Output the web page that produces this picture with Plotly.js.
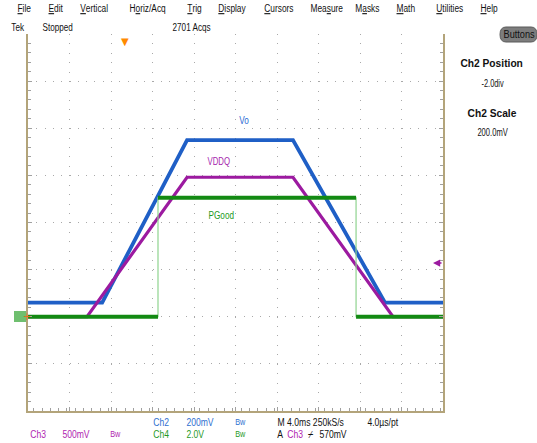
<!DOCTYPE html>
<html>
<head>
<meta charset="utf-8">
<script src="https://cdn.plot.ly/plotly-3.0.1.min.js"></script>
<style>
html,body{margin:0;padding:0;background:#fff;}
#chart{width:537px;height:443px;}
</style>
</head>
<body>
<div id="chart"></div>
<script>
// ---- channel settings (volts per division, position in divisions) ----
const chNames = ["Ch2", "Ch3", "Ch4"];
const chScale = [0.2, 0.5, 2.0];
const chPosition = [-2.0, -2.0, -2.0];
const triggerLevel = 0.57;   // V on Ch3

// ---- time axis (ms, relative to trigger) ----
const timeRange = [-9.35, 30.65];

// ---- waveform breakpoints ----
const voTime   = [-9.35, -2.2, 5.98, 16.19, 25.06, 30.65];
const voVolts  = [0.06, 0.06, 0.75, 0.75, 0.06, 0.06];

const vddqTime  = [-9.35, -3.66, 5.98, 16.19, 25.83, 30.65];
const vddqVolts = [0.0, 0.0, 1.48, 1.48, 0.0, 0.0];

const pgTime  = [-9.35, 3.18, 3.18, 22.27, 22.27, 30.65];
const pgVolts = [0.0, 0.0, 5.05, 5.05, 0.0, 0.0];

// ---- text ----
const menuItems = ["<u>F</u>ile","<u>E</u>dit","<u>V</u>ertical","H<u>o</u>riz/Acq","<u>T</u>rig","<u>D</u>isplay","<u>C</u>ursors","Mea<u>s</u>ure","M<u>a</u>sks","<u>M</u>ath","<u>U</u>tilities","<u>H</u>elp"];
const statusItems = ["Tek", "Stopped", "2701 Acqs"];
const waveLabels = ["Vo", "VDDQ", "PGood"];

function toDiv(volts, ch){ return volts.map(v => v / chScale[ch] + chPosition[ch]); }

// plot area in pixels
const L = 28, R = 443, T = 34, B = 411;
const W = R - L, H = B - T;
const px = x => (x - L) / W;
const py = y => (B - y) / H;

const BLUE = "#1f5fc6", MAG = "#9c1aa0", GRN = "#138a13", GRN_EDGE = "#8fd48f";

// green trace split at vertical edges
const pgDiv = toDiv(pgVolts, 2);
const pgLvlX = [], pgLvlY = [];
for (let i = 0; i < pgTime.length; i++) {
  pgLvlX.push(pgTime[i]); pgLvlY.push(pgDiv[i]);
  if (i < pgTime.length - 1 && pgTime[i + 1] === pgTime[i]) { pgLvlX.push(null); pgLvlY.push(null); }
}

const traces = [
  {x: voTime, y: toDiv(voVolts, 0), mode: "lines", line: {color: BLUE, width: 3.8}, hoverinfo: "skip"},
  {x: vddqTime, y: toDiv(vddqVolts, 1), mode: "lines", line: {color: MAG, width: 3.2}, hoverinfo: "skip"},
  {x: pgTime, y: pgDiv, mode: "lines", line: {color: GRN_EDGE, width: 1.2}, hoverinfo: "skip"},
  {x: pgLvlX, y: pgLvlY, mode: "lines", line: {color: GRN, width: 4.2}, hoverinfo: "skip", connectgaps: false}
];

const FONT = "Liberation Sans, Arial, sans-serif";
const TICKC = "#a0a0a0";
const divT = (timeRange[1] - timeRange[0]) / 10;

const baseX = {range: timeRange, showticklabels: false, zeroline: false, fixedrange: true,
  tick0: timeRange[0], dtick: divT};
const baseY = {range: [-4, 4], showticklabels: false, zeroline: false, fixedrange: true, tick0: 0, dtick: 1};

// text measuring (to size annotation boxes for the condensed scope font)
const ctx = document.createElement("canvas").getContext("2d");
function measure(text, size, bold) {
  ctx.font = (bold ? "bold " : "") + size + "px 'Liberation Sans'";
  return ctx.measureText(text.replace(/<[^>]+>/g, "")).width;
}

const annotations = [];
const squeeze = [];   // horizontal condensing per annotation (the scope font is narrow)
function addText(text, x, y, size, color, opts, sq) {
  const bold = /<b>/.test(text);
  const w = measure(text, size, bold) * sq + 1;
  const a = Object.assign({text: text, xref: "paper", yref: "paper", x: px(x), y: py(y),
    xanchor: "left", yanchor: "middle", showarrow: false, width: w, borderpad: 0, align: "center",
    font: {family: FONT, size: size, color: color}}, opts || {});
  annotations.push(a);
  squeeze.push(sq);
}
// menu
const menuX = [16, 47, 79, 128, 186, 217, 263, 309, 354, 395, 435, 479];
menuItems.forEach((m, i) => addText(m, menuX[i], 8, 11, "#111", null, 0.76));
// status row
const statusX = [10, 41, 171];
statusItems.forEach((t, i) => addText(t, statusX[i], 27, 11, "#111", null, 0.74));
// right panel
addText("Buttons", 518.5, 34.5, 10, "#111", {xanchor: "center"}, 0.92);
addText("<b>" + chNames[0] + " Position</b>", 492, 63, 11, "#111", {xanchor: "center"}, 0.93);
addText(chPosition[0].toFixed(1) + "div", 492, 83, 10, "#111", {xanchor: "center"}, 0.74);
addText("<b>" + chNames[0] + " Scale</b>", 492, 113, 11, "#111", {xanchor: "center"}, 0.93);
addText((chScale[0] * 1000).toFixed(1) + "mV", 492, 132, 10, "#111", {xanchor: "center"}, 0.76);
// waveform labels
addText(waveLabels[0], 244, 121, 10, "#2a6ad4", {xanchor: "center"}, 0.82);
addText(waveLabels[1], 219, 161, 10, "#a51fad", {xanchor: "center"}, 0.78);
addText(waveLabels[2], 221, 215.5, 10, "#1d9a1d", {xanchor: "center"}, 0.82);
// bottom readouts
const C2 = "#2f6fd0", C3 = "#b01eb0", C4 = "#1f9a1f";
const row1 = [[chNames[0], 152, C2], ["200mV", 185, C2], ["Bw", 234, C2], ["M 4.0ms 250kS/s", 276, "#111"], ["4.0µs/pt", 366, "#111"]];
const row2 = [[chNames[1], 29, C3], ["500mV", 61, C3], ["Bw", 109, C3], [chNames[2], 152, C4], ["2.0V", 185, C4], ["Bw", 234, C4],
  ["A", 276, "#111"], [chNames[1], 286, C3], ["⌿", 306, "#111"], ["570mV", 318, "#111"]];
row1.forEach(([t, x, c]) => addText(t, x, 422, t === "Bw" ? 8.5 : 10, c, null, 0.86));
row2.forEach(([t, x, c]) => addText(t, x, 434, t === "Bw" ? 8.5 : 10, c, null, 0.86));

// trigger position marker (top), trigger level marker (right), ground marker
annotations.push({text: "▼", xref: "x", yref: "paper", x: 0, y: 1.0, xanchor: "center", yanchor: "top", showarrow: false,
  font: {family: "DejaVu Sans", size: 10, color: "#ff8a00"}}); squeeze.push(1);
annotations.push({text: "", xref: "paper", yref: "y", x: px(433), y: triggerLevel / chScale[1] + chPosition[1],
  ax: 10, ay: 0, showarrow: true, arrowhead: 2, arrowsize: 0.9, arrowwidth: 1.6, arrowcolor: MAG}); squeeze.push(1);
annotations.push({text: "+", xref: "paper", yref: "y", x: px(27), y: chPosition[0], xanchor: "center", yanchor: "middle", showarrow: false,
  font: {family: "DejaVu Sans", size: 10, color: "#e07020"}}); squeeze.push(1);

const shapes = [
  {type: "rect", xref: "paper", yref: "paper", x0: px(14), x1: px(26), y0: py(322), y1: py(311), line: {width: 0}, fillcolor: "#6fbf6f", layer: "below"},
  {type: "path", xref: "paper", yref: "paper",
   path: `M ${px(506)},${py(27)} L ${px(531)},${py(27)} Q ${px(537)},${py(27)} ${px(537)},${py(34.5)} Q ${px(537)},${py(42)} ${px(531)},${py(42)} L ${px(506)},${py(42)} Q ${px(500)},${py(42)} ${px(500)},${py(34.5)} Q ${px(500)},${py(27)} ${px(506)},${py(27)} Z`,
   fillcolor: "#7d7d7d", line: {color: "#5a5a5a", width: 1}, layer: "below"}
];

const layout = {
  width: 537, height: 443,
  margin: {l: L, r: 537 - R, t: T, b: 443 - B, pad: 0},
  paper_bgcolor: "#fff", plot_bgcolor: "#fff",
  showlegend: false,
  xaxis: Object.assign({}, baseX, {showgrid: true, gridcolor: "#a9a9a9", gridwidth: 1, griddash: "1px,8.42px",
    ticks: "inside", ticklen: 4, tickcolor: TICKC, minor: {dtick: divT / 5, ticks: "inside", ticklen: 3, tickcolor: TICKC, showgrid: false},
    showline: true, linecolor: "#b3a47a", linewidth: 2}),
  xaxis2: Object.assign({}, baseX, {overlaying: "x", anchor: "y", side: "top", showgrid: false,
    ticks: "inside", ticklen: 4, tickcolor: TICKC, minor: {dtick: divT / 5, ticks: "inside", ticklen: 3, tickcolor: TICKC},
    showline: true, linecolor: "#c6dc8a", linewidth: 2}),
  xaxis3: Object.assign({}, baseX, {overlaying: "x", anchor: "free", position: 0.5, showgrid: false, showline: false,
    ticks: "outside", ticklen: 2, tickcolor: TICKC, dtick: divT / 5}),
  xaxis4: Object.assign({}, baseX, {overlaying: "x", anchor: "free", position: 0.5, showgrid: false, showline: false,
    ticks: "inside", ticklen: 2, tickcolor: TICKC, dtick: divT / 5}),
  yaxis: Object.assign({}, baseY, {showgrid: true, gridcolor: "#a9a9a9", gridwidth: 1, griddash: "1px,7.3px",
    ticks: "inside", ticklen: 4, tickcolor: TICKC, minor: {dtick: 0.2, ticks: "inside", ticklen: 3, tickcolor: TICKC, showgrid: false},
    showline: true, linecolor: "#b3a47a", linewidth: 2, mirror: "ticks"}),
  yaxis3: Object.assign({}, baseY, {overlaying: "y", anchor: "free", position: 0.5, showgrid: false, showline: false,
    ticks: "outside", ticklen: 2, tickcolor: TICKC, dtick: 0.2}),
  yaxis4: Object.assign({}, baseY, {overlaying: "y", anchor: "free", position: 0.5, showgrid: false, showline: false,
    ticks: "inside", ticklen: 2, tickcolor: TICKC, dtick: 0.2}),
  annotations: annotations,
  shapes: shapes
};

Plotly.newPlot("chart", traces, layout, {staticPlot: true, displayModeBar: false}).then(gd => {
  // condense the annotation text horizontally (about its own centre) to mimic the narrow scope font
  gd.querySelectorAll("g.annotation").forEach(g => {
    const idx = +g.getAttribute("data-index");
    const f = squeeze[idx];
    const t = g.querySelector("text.annotation-text");
    if (!t || !f || f === 1) return;
    g.querySelectorAll("[clip-path]").forEach(e => e.removeAttribute("clip-path"));
    const bb = t.getBBox();
    const cx = bb.x + bb.width / 2;
    t.setAttribute("transform", `matrix(${f},0,0,1,${((1 - f) * cx).toFixed(2)},0)`);
  });
});
</script>
</body>
</html>
